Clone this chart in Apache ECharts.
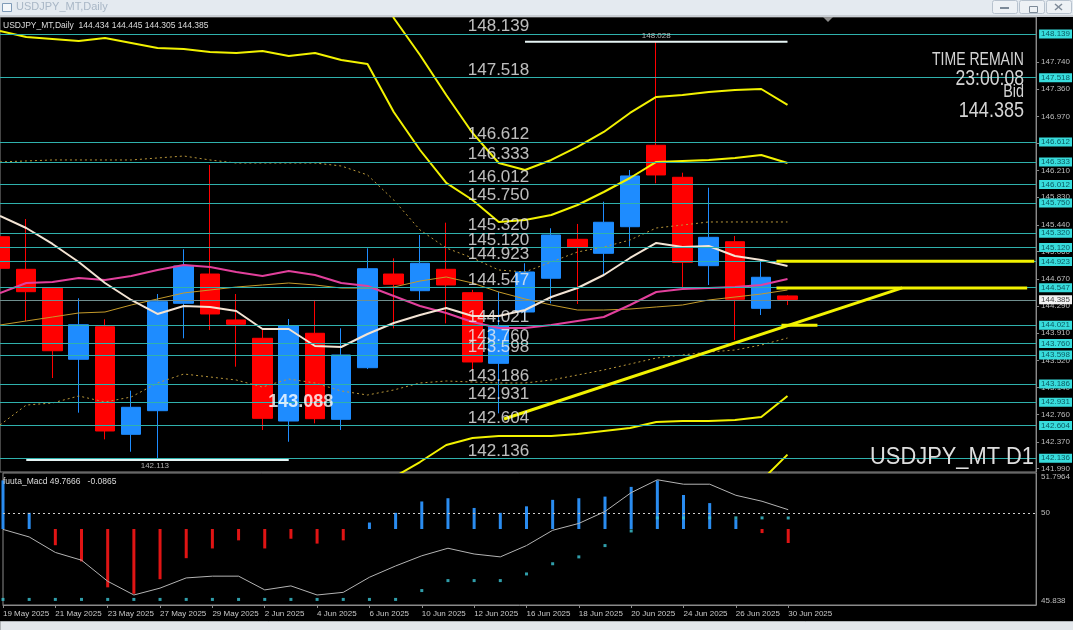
<!DOCTYPE html>
<html>
<head>
<meta charset="utf-8">
<title>USDJPY_MT,Daily</title>
<script src="https://cdn.jsdelivr.net/npm/echarts@6/dist/echarts.min.js"></script>
<style>
  html, body { margin: 0; padding: 0; background: #000; }
  #chart { width: 1073px; height: 630px; }
</style>
</head>
<body>
<div id="chart"></div>
<script>
// daily bars 19 May - 30 Jun 2025
var dates = ['19 May 2025','20 May 2025','21 May 2025','22 May 2025','23 May 2025','26 May 2025','27 May 2025',
  '28 May 2025','29 May 2025','30 May 2025','2 Jun 2025','3 Jun 2025','4 Jun 2025','5 Jun 2025','6 Jun 2025',
  '9 Jun 2025','10 Jun 2025','11 Jun 2025','12 Jun 2025','13 Jun 2025','16 Jun 2025','17 Jun 2025','18 Jun 2025',
  '19 Jun 2025','20 Jun 2025','23 Jun 2025','24 Jun 2025','25 Jun 2025','26 Jun 2025','27 Jun 2025','30 Jun 2025'];

var open  = [145.272,144.811,144.542,143.538,143.999,142.477,142.811,144.330,144.744,144.094,143.835,142.665,143.906,142.689,143.419,
  144.744,144.508,144.811,144.480,143.481,144.207,144.684,145.235,145.037,145.413,146.565,146.112,144.862,145.201,144.259,144.434];
var high  = [145.466,145.522,144.550,144.401,144.104,143.094,144.461,145.094,146.286,144.461,143.952,144.108,144.377,143.976,145.108,
  144.966,145.296,145.470,144.520,144.494,144.896,145.391,145.452,145.767,146.215,148.028,146.177,145.965,145.282,144.942,144.445];
var low   = [144.660,144.080,143.273,142.783,142.406,142.231,142.113,143.835,143.952,143.433,142.538,142.372,142.633,142.538,143.400,
  143.976,144.377,144.047,143.387,142.774,144.094,144.330,144.320,144.730,145.131,146.027,144.542,144.589,143.811,144.164,144.305];
var close = [144.825,144.494,143.659,144.027,142.524,142.859,144.353,144.858,144.179,144.033,142.703,144.013,142.698,143.599,144.819,
  144.599,144.896,144.589,143.500,144.013,144.773,145.296,145.122,145.476,146.131,146.145,144.910,145.263,144.386,144.698,144.385];

// moving averages
var maFast = [145.565,145.395,145.169,144.914,144.617,144.377,144.179,144.292,144.278,144.221,143.966,143.966,143.726,143.712,143.896,
  144.051,144.164,144.263,144.150,144.150,144.235,144.419,144.546,144.730,144.971,145.183,145.126,145.140,144.999,144.942,144.858];
var maMid  = [144.476,144.617,144.631,144.688,144.660,144.716,144.801,144.872,144.843,144.773,144.716,144.787,144.730,144.617,144.575,
  144.433,144.292,144.193,144.065,143.981,143.981,144.023,144.080,144.136,144.306,144.490,144.532,144.546,144.560,144.589,144.674];
var maSlow = [144.023,144.080,144.136,144.193,144.207,144.306,144.391,144.476,144.518,144.560,144.589,144.617,144.589,144.546,144.546,
  144.560,144.645,144.702,144.617,144.490,144.391,144.306,144.235,144.235,144.249,144.278,144.306,144.377,144.419,144.461,144.518];

// bollinger bands 1, 2, 3 sigma
var bbUp1 = [146.329,146.343,146.357,146.357,146.357,146.357,146.385,146.413,146.357,146.314,146.314,146.314,146.314,146.272,146.145,
  145.791,145.367,145.112,144.971,144.801,144.773,144.914,145.056,145.126,145.225,145.395,145.437,145.480,145.480,145.480,145.480];
var bbDn1 = [142.609,142.891,142.920,143.019,142.934,143.005,143.203,143.330,143.288,143.245,143.146,143.259,143.203,143.090,143.033,
  143.104,143.203,143.231,143.217,143.203,143.203,143.245,143.316,143.387,143.471,143.556,143.599,143.641,143.669,143.740,143.839];
var bbUp2 = [148.181,148.097,148.068,148.040,148.082,148.012,147.941,147.927,147.884,147.870,147.899,147.828,147.870,147.771,147.715,
  147.036,146.498,146.032,145.791,145.480,145.508,145.579,145.720,145.904,146.102,146.329,146.343,146.357,146.385,146.428,146.314];
var bbDn2 = [140.77,141.14,141.19,141.34,141.24,141.42,141.66,141.82,141.80,141.68,141.53,141.75,141.59,141.46,141.44,
  141.87,142.085,142.326,142.425,142.453,142.453,142.453,142.481,142.524,142.566,142.651,142.665,142.665,142.679,142.722,143.019];
var bbUp3 = [150.0,149.9,149.9,149.7,149.8,149.7,149.5,149.4,149.4,149.5,149.6,149.4,149.6,149.6,149.3,
  148.365,147.842,147.276,146.739,146.314,146.215,146.357,146.541,146.753,147.022,147.248,147.276,147.319,147.347,147.361,147.135];
var bbDn3 = [138.9,139.3,139.4,139.6,139.5,139.7,140.0,140.2,140.2,140.1,139.9,140.2,139.9,139.7,139.9,
  140.6,140.74,141.11,141.39,141.65,141.75,141.69,141.62,141.52,141.59,141.73,141.79,141.77,141.77,141.82,142.19];

// horizontal levels and drawn objects
var levels = [148.139,147.518,146.612,146.333,146.012,145.750,145.320,145.120,144.923,144.547,144.021,143.760,143.598,143.186,142.931,142.604,142.136];
var bid = 144.385;
var priceTicks = [147.740,147.360,146.970,146.590,146.210,145.830,145.440,145.060,144.670,144.290,143.910,143.520,143.140,142.760,142.370,141.990];
var trendLine = [[19.2,142.694],[34.37,144.547]];
var resLine = [[29.58,144.923],[39.4,144.923]];
var supLine = [[29.58,144.547],[39.13,144.547]];
var stubLine = [[29.77,144.021],[31.14,144.021]];
var highMark = [[20,148.028],[30,148.028]];
var lowMark = [[1,142.113],[11,142.113]];

// fuuta_Macd sub window
var macdMain = [49.25,48.91,48.21,47.86,46.91,46.29,46.60,47.06,47.14,47.14,46.52,46.70,46.29,46.41,47.09,
  47.60,48.06,48.40,48.14,48.01,48.52,49.21,49.52,50.06,50.91,51.49,51.29,51.29,50.79,50.52,50.14];
var macdSignal = [46.09,46.09,46.09,46.09,46.09,46.09,46.09,46.09,46.09,46.09,46.09,46.09,46.09,46.09,46.09,
  46.09,46.49,46.94,46.94,46.94,47.24,47.70,48.01,48.52,49.18,49.77,49.77,49.77,49.77,49.77,49.7666];
var macdHist = [0.30,0.10,-0.10,-0.20,-0.36,-0.40,-0.31,-0.18,-0.12,-0.07,-0.12,-0.06,-0.09,-0.07,0.04,
  0.10,0.17,0.19,0.13,0.10,0.14,0.18,0.19,0.20,0.26,0.30,0.21,0.16,0.06,-0.025,-0.0865];
var macdTicks = [45.838, 50, 51.7964];

var dateTicks = dates.map(function (d, i) { return i; }).filter(function (i) { return i % 2 === 0; });

var FONT = "'Liberation Sans', Arial, sans-serif";
var TEAL = '#2fb1ad';
var YEL = '#f2f200';

function pts(arr) {
  return arr.map(function (v, i) { return [i, v]; });
}

function priceLine(arr, color, width, type) {
  return {
    type: 'line', xAxisIndex: 0, yAxisIndex: 0, data: pts(arr), symbol: 'none', silent: true, z: 3,
    lineStyle: { color: color, width: width, type: type || 'solid' }
  };
}

function segment(data, color, width) {
  return {
    type: 'line', xAxisIndex: 0, yAxisIndex: 0, data: data, symbol: 'none', silent: true, z: 6,
    lineStyle: { color: color, width: width }
  };
}

var chart = echarts.init(document.getElementById('chart'));

var option = {
  animation: false,
  backgroundColor: '#000',
  textStyle: { fontFamily: FONT },
  grid: [
    { left: 0, right: 36, top: 17, height: 455, show: true, borderColor: '#8a8a8a', borderWidth: 1 },
    { left: 0, right: 36, top: 473, height: 132, show: true, borderColor: '#8a8a8a', borderWidth: 1 }
  ],
  xAxis: [
    { gridIndex: 0, type: 'value', min: 0, max: 39.47, show: false },
    {
      gridIndex: 1, type: 'value', min: 0, max: 39.47, position: 'bottom',
      splitLine: { show: false },
      axisLine: { show: true, onZero: false, lineStyle: { color: '#8a8a8a' } },
      axisTick: { show: true, customValues: dateTicks, length: 3, lineStyle: { color: '#8a8a8a' } },
      axisLabel: {
        customValues: dateTicks, formatter: function (v) { return dates[v] || ''; },
        align: 'left', color: '#c8c8c8', fontSize: 8, margin: 5
      }
    }
  ],
  yAxis: [
    {
      gridIndex: 0, type: 'value', position: 'right', min: 141.944, max: 148.379,
      splitLine: { show: false },
      axisLine: { show: true, onZero: false, lineStyle: { color: '#8a8a8a' } },
      axisTick: { show: true, customValues: priceTicks, length: 3, lineStyle: { color: '#8a8a8a' } },
      axisLabel: {
        customValues: priceTicks, formatter: function (v) { return v.toFixed(3); },
        color: '#bdbdbd', fontSize: 8, margin: 5
      }
    },
    {
      gridIndex: 1, type: 'value', position: 'right', min: 45.838, max: 51.7964,
      splitLine: { show: false },
      axisLine: { show: true, onZero: false, lineStyle: { color: '#8a8a8a' } },
      axisTick: { show: false },
      axisLabel: {
        customValues: macdTicks, formatter: function (v) { return String(v); },
        color: '#bdbdbd', fontSize: 8, margin: 5,
        verticalAlignMaxLabel: 'top', verticalAlignMinLabel: 'bottom'
      }
    },
    { gridIndex: 1, type: 'value', min: -0.469, max: 0.3457, show: false, axisLine: { onZero: false } }
  ],
  series: [
    {
      type: 'candlestick', xAxisIndex: 0, yAxisIndex: 0, z: 1,
      data: dates.map(function (d, i) { return [i, open[i], close[i], low[i], high[i]]; }),
      encode: { x: 0, y: [1, 2, 3, 4] },
      barWidth: 20,
      itemStyle: { color: '#1e8cff', color0: '#ff0000', borderColor: '#1e8cff', borderColor0: '#ff0000', borderWidth: 1 },
      markLine: {
        silent: true, symbol: ['none', 'none'], z: 5,
        lineStyle: { color: TEAL, width: 1, type: 'solid' },
        label: {
          position: 'end', distance: 3, fontSize: 8, fontFamily: FONT,
          color: '#0b5a62', backgroundColor: '#38dcdc', padding: [1, 2, 0, 2],
          formatter: '{b}'
        },
        data: levels.map(function (v) { return { name: v.toFixed(3), yAxis: v }; }).concat([{
          name: bid.toFixed(3),
          yAxis: bid,
          lineStyle: { color: '#6f8f8f', width: 1 },
          label: { backgroundColor: '#f2f2f2', color: '#444' }
        }])
      }
    },
    priceLine(bbUp3, YEL, 2),
    priceLine(bbUp2, YEL, 2),
    priceLine(bbDn2, YEL, 2),
    priceLine(bbDn3, YEL, 2),
    priceLine(bbUp1, '#b8963a', 1, [2, 3]),
    priceLine(bbDn1, '#b8963a', 1, [2, 3]),
    priceLine(maSlow, '#c49a2a', 1),
    priceLine(maMid, '#e2409c', 2),
    priceLine(maFast, '#f3e4d4', 2),
    segment(trendLine, YEL, 3),
    segment(resLine, YEL, 3),
    segment(supLine, YEL, 3),
    segment(stubLine, YEL, 3),
    segment(highMark, '#e6f4f4', 2),
    segment(lowMark, '#e6f4f4', 2),
    {
      // level captions written on the chart
      type: 'scatter', xAxisIndex: 0, yAxisIndex: 0, z: 7, silent: true, symbolSize: 0,
      data: levels.map(function (v) { return [17.82, v]; }),
      label: {
        show: true, position: 'insideBottomLeft', distance: 0, offset: [0, 1],
        color: '#ececec', fontSize: 17, fontFamily: FONT,
        formatter: function (p) { return p.value[1].toFixed(3); }
      }
    },
    {
      type: 'scatter', xAxisIndex: 0, yAxisIndex: 0, z: 7, silent: true, symbolSize: 0,
      data: [
        { value: [25, 148.028], label: { position: 'top', distance: 2, formatter: '148.028' } },
        { value: [5.9, 142.113], label: { position: 'bottom', distance: 2, formatter: '142.113' } },
        { value: [11.46, 142.934], label: { position: 'inside', fontSize: 18, fontWeight: 'bold', color: '#ffffff', formatter: '143.088' } }
      ],
      label: { show: true, color: '#d8d8d8', fontSize: 8, fontFamily: FONT }
    },
    {
      type: 'bar', xAxisIndex: 1, yAxisIndex: 2, barWidth: 3, silent: true, z: 2,
      data: pts(macdHist),
      itemStyle: { color: function (p) { return p.value[1] >= 0 ? '#2a8cf0' : '#e01414'; } }
    },
    {
      type: 'line', xAxisIndex: 1, yAxisIndex: 1, data: pts(macdMain), symbol: 'none', silent: true, z: 3,
      lineStyle: { color: '#b4b4b4', width: 1 },
      markLine: {
        silent: true, symbol: ['none', 'none'], label: { show: false },
        lineStyle: { color: '#cfcfcf', width: 1, type: [2, 3] },
        data: [{ yAxis: 50 }]
      }
    },
    {
      type: 'scatter', xAxisIndex: 1, yAxisIndex: 1, data: pts(macdSignal), silent: true, z: 4,
      symbol: 'rect', symbolSize: 3, itemStyle: { color: '#3cc6d4' }
    }
  ],
  graphic: [
    // window chrome
    { type: 'rect', left: 0, top: 0, shape: { width: 1073, height: 15 }, style: { fill: '#e4eaf0' }, z: 10 },
    { type: 'rect', left: 0, top: 15, shape: { width: 1073, height: 2 }, style: { fill: '#c9ced4' }, z: 10 },
    { type: 'rect', left: 2, top: 3, shape: { width: 9, height: 8 }, style: { fill: '#f4f7fa', stroke: '#7f9bb8', lineWidth: 1 }, z: 11 },
    { type: 'text', left: 16, top: 1, style: { text: 'USDJPY_MT,Daily', fill: '#a9b7c6', fontSize: 11, fontFamily: FONT }, z: 11 },
    { type: 'rect', left: 992, top: 0, shape: { width: 25, height: 13, r: 2 }, style: { fill: '#edf1f5', stroke: '#b7c2ce' }, z: 11 },
    { type: 'rect', left: 1019, top: 0, shape: { width: 25, height: 13, r: 2 }, style: { fill: '#edf1f5', stroke: '#b7c2ce' }, z: 11 },
    { type: 'rect', left: 1046, top: 0, shape: { width: 25, height: 13, r: 2 }, style: { fill: '#edf1f5', stroke: '#b7c2ce' }, z: 11 },
    { type: 'line', shape: { x1: 1000, y1: 8, x2: 1009, y2: 8 }, style: { stroke: '#7d8a98', lineWidth: 2 }, z: 12 },
    { type: 'rect', left: 1027, top: 4, shape: { width: 8, height: 6 }, style: { fill: 'none', stroke: '#7d8a98', lineWidth: 1 }, z: 12 },
    { type: 'line', shape: { x1: 1055, y1: 4, x2: 1062, y2: 10 }, style: { stroke: '#7d8a98', lineWidth: 1.5 }, z: 12 },
    { type: 'line', shape: { x1: 1062, y1: 4, x2: 1055, y2: 10 }, style: { stroke: '#7d8a98', lineWidth: 1.5 }, z: 12 },
    { type: 'rect', left: 0, top: 621, shape: { width: 1073, height: 9 }, style: { fill: '#e3e7eb', stroke: '#b0b4b8' }, z: 10 },
    // shift marker
    { type: 'polygon', shape: { points: [[823, 17], [833, 17], [828, 22]] }, style: { fill: '#8c8c8c' }, z: 10 },
    // captions
    { type: 'text', left: 3, top: 21, style: { text: 'USDJPY_MT,Daily  144.434 144.445 144.305 144.385', fill: '#dcdcdc', fontSize: 8.5, fontFamily: FONT }, z: 10 },
    { type: 'text', left: 3, top: 477, style: { text: 'fuuta_Macd 49.7666   -0.0865', fill: '#dcdcdc', fontSize: 8.5, fontFamily: FONT }, z: 10 },
    { type: 'text', x: 1024, y: 60, scaleX: 0.78, style: { text: 'TIME REMAIN', fill: '#d4d4d4', fontSize: 18, fontFamily: FONT, align: 'right', verticalAlign: 'middle' }, z: 10 },
    { type: 'text', x: 1024, y: 79, scaleX: 0.8, style: { text: '23:00:08', fill: '#d4d4d4', fontSize: 22, fontFamily: FONT, align: 'right', verticalAlign: 'middle' }, z: 10 },
    { type: 'text', x: 1024, y: 92, scaleX: 0.8, style: { text: 'Bid', fill: '#d4d4d4', fontSize: 18, fontFamily: FONT, align: 'right', verticalAlign: 'middle' }, z: 10 },
    { type: 'text', x: 1024, y: 111, scaleX: 0.82, style: { text: '144.385', fill: '#d4d4d4', fontSize: 22, fontFamily: FONT, align: 'right', verticalAlign: 'middle' }, z: 10 },
    { type: 'text', x: 1034, y: 458, scaleX: 0.95, style: { text: 'USDJPY_MT D1', fill: '#dedede', fontSize: 23, fontFamily: FONT, align: 'right', verticalAlign: 'middle' }, z: 10 }
  ]
};

chart.setOption(option);
</script>
</body>
</html>
